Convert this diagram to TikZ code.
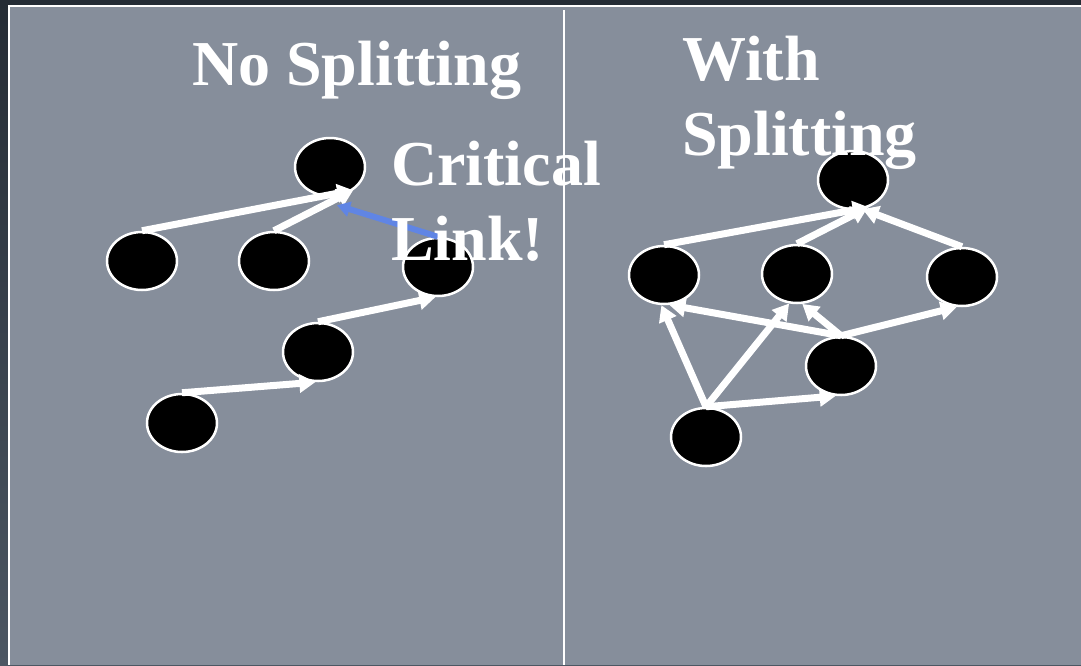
\documentclass[tikz,border=0pt]{standalone}
\usepackage{fontspec}
\setmainfont{Liberation Serif}
\usetikzlibrary{shapes.geometric,arrows.meta}
\definecolor{darkbg}{HTML}{252C35}
\definecolor{darkbg2}{HTML}{4C5763}
\definecolor{panel}{HTML}{868E9B}
\definecolor{critblue}{HTML}{6085E4}
\tikzset{
  dot/.style={ellipse,draw=white,line width=2.5pt,fill=black,minimum width=70pt,minimum height=58pt,inner sep=0pt},
  link/.style={draw=white,line width=7pt,-{Triangle[length=16pt,width=18pt]}},
  critlink/.style={draw=critblue,line width=6pt,-{Triangle[length=13pt,width=15pt]}},
  title/.style={text=white,font=\fontsize{64}{75}\selectfont\bfseries,inner sep=0pt,anchor=base west,align=left},
}
\begin{document}
\begin{tikzpicture}[x=1pt,y=-1pt]
\useasboundingbox (0,0) rectangle (1081,665);
\shade[top color=darkbg,bottom color=darkbg2] (0,0) rectangle (1081,665);
\fill[darkbg] (0,0) rectangle (1081,6);
\fill[white] (8,5) rectangle (1081,665);
\fill[panel] (10,7) rectangle (1081,665);

% left panel
\node[dot] (A) at (330,167) {};
\node[dot] (B) at (142,261) {};
\node[dot] (C) at (274,261) {};
\node[dot] (D) at (438,267) {};
\node[dot] (E) at (318,352) {};
\node[dot] (F) at (182,423) {};

\draw[link] (B.north) -- (A.-45);
\draw[link] (C.north) -- (A.-45);
\draw[critlink] (D.north) -- ([shift={(7,8)}]A.south);
\draw[link] (E.north) -- (D.-95);
\draw[link] (F.north) -- (E.-95);

% right panel
\node[dot] (G) at (853,180) {};
\node[dot] (H) at (664,275) {};
\node[dot] (I) at (797,274) {};
\node[dot] (J) at (962,277) {};
\node[dot] (K) at (841,366) {};
\node[dot] (L) at (706,437) {};

\draw[link] (H.north) -- (G.-60);
\draw[link] (I.north) -- (G.-62);
\draw[link] (J.north) -- (G.-72);
\draw[link] (K.north) -- (H.-80);
\draw[link] (K.north) -- (I.-80);
\draw[link] (K.north) -- (J.-100);
\draw[link] (L.north) -- (H.-95);
\draw[link] (L.north) -- (I.-105);
\draw[link] (L.north) -- (K.-100);

% texts
\node[title] (t1) at (192,85) {No Splitting};
\node[title] (t2) at (682,155) {With\\Splitting};
\node[title] (t3) at (391,260) {Critical\\Link!};

\draw[white,line width=2pt] (564,10) -- (564,665);
\end{tikzpicture}
\end{document}
